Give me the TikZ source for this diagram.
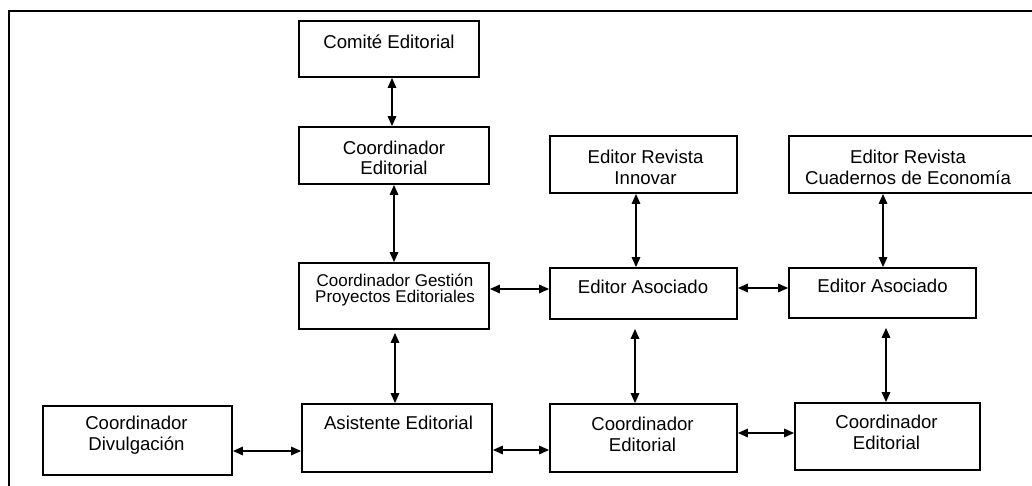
\documentclass[tikz,border=0pt]{standalone}
\usepackage{fontspec}
\setmainfont{Liberation Sans}
\usetikzlibrary{arrows.meta}
\begin{document}
\begin{tikzpicture}[x=1pt,y=-1pt,
  box/.style={draw, line width=1.8pt, inner sep=0pt, rectangle},
  txt/.style={align=center, inner sep=0pt, font=\fontsize{18.6}{20.5}\selectfont},
  small/.style={font=\fontsize{17}{16.5}\selectfont},
  dbl/.style={{Triangle[length=10pt,width=8.5pt]}-{Triangle[length=10pt,width=8.5pt]}, line width=1.6pt}]
\useasboundingbox (0,0) rectangle (1032,486);
% frame
\draw[line width=1.3pt] (9,500) -- (9,11) -- (1040,11);
% boxes
\node[box, minimum width=180pt, minimum height=56pt] (cte) at (389,49) {};
\node[box, minimum width=190pt, minimum height=57pt] (ced) at (394,155.5) {};
\node[box, minimum width=190pt, minimum height=66pt] (cgpe) at (394,296) {};
\node[box, minimum width=190pt, minimum height=68pt] (asis) at (397,438) {};
\node[box, minimum width=189pt, minimum height=69pt] (cdiv) at (137.5,440.5) {};
\node[box, minimum width=187pt, minimum height=57pt] (eri) at (643.5,164.5) {};
\node[box, minimum width=251pt, minimum height=57pt] (erc) at (914.5,164.5) {};
\node[box, minimum width=187pt, minimum height=51pt] (ea1) at (643.5,293.5) {};
\node[box, minimum width=187pt, minimum height=50pt] (ea2) at (882.5,293) {};
\node[box, minimum width=187pt, minimum height=68pt] (ce2) at (643.5,438) {};
\node[box, minimum width=185pt, minimum height=67pt] (ce3) at (887.5,436.5) {};
% texts
\node[txt] (cte-t) at (389,42) {Comité Editorial};
\node[txt] (ced-t) at (394,158) {Coordinador\\Editorial};
\node[txt, small] (cgpe-t) at (395,290) {Coordinador Gestión\\Proyectos Editoriales};
\node[txt] (asis-t) at (398.5,423) {Asistente Editorial};
\node[txt] (cdiv-t) at (136.5,435) {Coordinador\\Divulgación};
\node[txt] (eri-t) at (645.5,167.5) {Editor Revista\\Innovar};
\node[txt] (erc-t) at (908,167.5) {Editor Revista\\Cuadernos de Economía};
\node[txt] (ea1-t) at (643,287) {Editor Asociado};
\node[txt] (ea2-t) at (882.5,286) {Editor Asociado};
\node[txt] (ce2-t) at (642.5,434.5) {Coordinador\\Editorial};
\node[txt] (ce3-t) at (886.5,432.5) {Coordinador\\Editorial};
% connectors
\draw[dbl] ([xshift=3pt]cte.south) -- ([xshift=-2pt]ced.north);
\draw[dbl] (ced.south) -- (cgpe.north);
\draw[dbl, shorten <=3pt] ([xshift=1pt]cgpe.south) -- ([xshift=-2pt]asis.north);
\draw[dbl] ([yshift=-10.5pt]cdiv.east) -- ([yshift=-13pt]asis.west);
\draw[dbl] ([yshift=7pt]cgpe.east) -- ([yshift=4.5pt]ea1.west);
\draw[dbl] ([yshift=-12pt]asis.east) -- ([yshift=-12pt]ce2.west);
\draw[dbl] ([yshift=5.5pt]ea1.east) -- ([yshift=5pt]ea2.west);
\draw[dbl] ([yshift=5pt]ce2.east) -- ([yshift=3.5pt]ce3.west);
\draw[dbl] ([xshift=-7.5pt]eri.south) -- ([xshift=-7.5pt]ea1.north);
\draw[dbl] ([xshift=-31.5pt]erc.south) -- ([xshift=0.5pt]ea2.north);
\draw[dbl, shorten <=9pt] ([xshift=-8.5pt]ea1.south) -- ([xshift=-8.5pt]ce2.north);
\draw[dbl, shorten <=9pt] ([xshift=3.5pt]ea2.south) -- ([xshift=-1.5pt]ce3.north);
\end{tikzpicture}
\end{document}
